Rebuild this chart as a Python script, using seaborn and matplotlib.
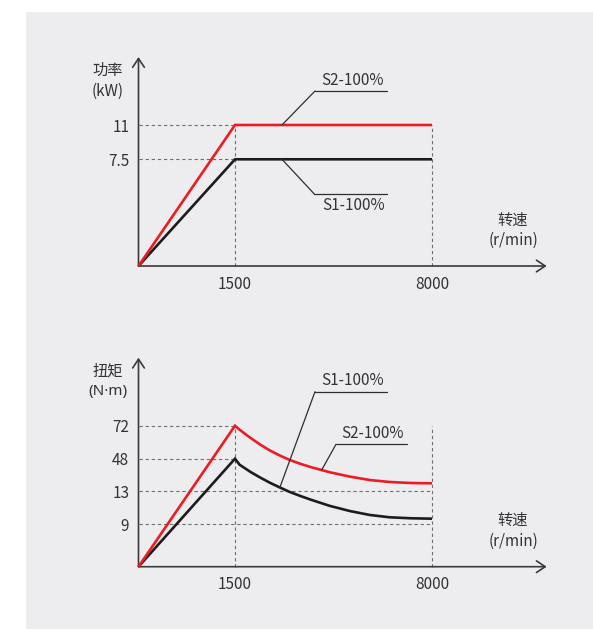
import numpy as np
import pandas as pd
import matplotlib
matplotlib.use("Agg")
import matplotlib.pyplot as plt
import seaborn as sns
from matplotlib.lines import Line2D
from matplotlib.patches import Rectangle

# speed (r/min) and the duty curves
speed_power = [0, 1500, 8000]
s1_power = [0, 7.5, 7.5]
s2_power = [0, 11, 11]

speed_torque = [0, 1500, 1650, 2000, 2330, 2650, 2980, 3300, 3650, 3980,
                4630, 5300, 5950, 6600, 7300, 8000]
s1_torque = [0, 48, 41.6, 34.0, 27.8, 22.2, 17.1, 12.93, 12.44, 12.01,
             11.23, 10.6, 10.13, 9.85, 9.73, 9.68]
s2_torque = [0, 72, 69.1, 63.3, 58.3, 54.0, 50.3, 46.7, 42.6, 39.2,
             33.4, 28.7, 25.1, 23.0, 21.9, 21.6]

speed_ticks = [1500, 8000]
power_ticks = [7.5, 11]
torque_ticks = [9, 13, 48, 72]
duty_names = ["S1-100%", "S2-100%"]

sns.set_theme(style="white")
plt.rcParams["font.family"] = ["Noto Sans CJK SC", "DejaVu Sans"]
plt.rcParams["lines.solid_joinstyle"] = "miter"

W, H = 593, 629
RED = "#ec1c24"
BLACK = "#1c1c1c"
TXT = "#333333"
GRID = "#6f6f6f"

fig = plt.figure(figsize=(W / 100, H / 100), dpi=100)
fig.patch.set_facecolor("white")
fig.add_artist(Rectangle((26 / W, 0), 1, (H - 12) / H, transform=fig.transFigure,
                         facecolor="#ededef", edgecolor="none", zorder=0))


def px(x, y):
    # figure pixels measured from the top left
    return (x / W, 1 - y / H)


# the drawing is schematic: piecewise-linear scales between the marked values
def piecewise(vals, pos):
    vals = np.asarray(vals, float)
    pos = np.asarray(pos, float)
    fwd = lambda v: np.interp(v, vals, pos)
    inv = lambda p: np.interp(p, pos, vals)
    return fwd, inv


x_fwd, x_inv = piecewise([0, 1500, 8000, 12000], [0, 96.5, 293.5, 414.7])


def make_axes(y_top, y_anchor, y_pos):
    ax = fig.add_axes([138.5 / W, (H - y_top) / H, 408.2 / W, 209 / H])
    ax.set_facecolor("none")
    ax.set_xscale("function", functions=(x_fwd, x_inv))
    y_fwd, y_inv = piecewise(y_anchor, y_pos)
    ax.set_yscale("function", functions=(y_fwd, y_inv))
    ax.set_xlim(0, x_inv(408.2))
    ax.set_ylim(0, y_anchor[-1])
    for s in ax.spines.values():
        s.set_visible(False)
    arrow = dict(arrowstyle="->,head_length=0.45,head_width=0.3", lw=1.2,
                 color="#3a3a3a", shrinkA=0, shrinkB=0, mutation_scale=14)
    ax.annotate("", xy=(1, 0), xytext=(0, 0), xycoords="axes fraction",
                textcoords="axes fraction", arrowprops=arrow)
    ax.annotate("", xy=(0, 1), xytext=(0, 0), xycoords="axes fraction",
                textcoords="axes fraction", arrowprops=arrow)
    ax.minorticks_off()
    ax.tick_params(length=0, labelsize=11, labelcolor=TXT)
    ax.tick_params(axis="x", pad=7)
    ax.tick_params(axis="y", pad=6.6)
    return ax


def draw_curves(ax, speed, s1, s2):
    df = pd.DataFrame({
        "speed": speed * 2,
        "value": s1 + s2,
        "duty": [duty_names[0]] * len(speed) + [duty_names[1]] * len(speed),
    })
    sns.lineplot(data=df, x="speed", y="value", hue="duty", estimator=None,
                 palette={duty_names[0]: BLACK, duty_names[1]: RED},
                 linewidth=1.9, legend=False, ax=ax, zorder=3)
    for ln in ax.get_lines():
        ln.set_clip_on(False)
        ln.set_solid_capstyle("butt")
    ax.set_xlabel("")
    ax.set_ylabel("")


dash = dict(colors=GRID, linewidth=0.8, linestyles=(0, (3, 2.5)), zorder=1, clip_on=False)


def leader(ax, xy, elbow, end_x):
    ax.annotate("", xy=xy, xycoords="data", xytext=(elbow[0], H - elbow[1]),
                textcoords="figure pixels",
                arrowprops=dict(arrowstyle="-", lw=0.9, color="#2e2e2e",
                                shrinkA=0, shrinkB=0))
    fig.add_artist(Line2D([elbow[0] / W, end_x / W], [1 - elbow[1] / H] * 2,
                          transform=fig.transFigure, lw=0.9, color="#2e2e2e"))


def label(x, y, s, ha="center", family=None):
    kw = dict(fontsize=11, color=TXT, va="center", ha=ha)
    if family:
        kw["family"] = family
    fig.text(*px(x, y), s, **kw)


# ---- power chart ----
ax1 = make_axes(266, [0, 7.5, 11, 20], [0, 106.7, 141, 209])
ax1.hlines(power_ticks, 0, 1500, **dash)
ax1.vlines(speed_ticks, 0, max(s2_power), **dash)
draw_curves(ax1, speed_power, s1_power, s2_power)
ax1.set_xticks(speed_ticks, [str(v) for v in speed_ticks])
ax1.set_yticks(power_ticks, ["7.5", "11"])
leader(ax1, (3050, 11), (315, 91), 387.3)
leader(ax1, (3050, 7.5), (314.3, 194), 387.3)
label(321.7, 80.8, duty_names[1], ha="left")
label(322, 205.8, duty_names[0], ha="left")
label(108, 70, "功率")
label(108, 91, "(kW)")
label(513, 220, "转速")
label(513, 240.7, "(r/min)")

# ---- torque chart ----
ax2 = make_axes(566.7, [0, 9, 13, 48, 72, 100], [0, 42.4, 75.4, 108, 141, 209])
ax2.hlines([72, 48], 0, 1500, **dash)
ax2.hlines([13, 9], 0, 8000, **dash)
ax2.vlines(speed_ticks, 0, max(s2_torque), **dash)
draw_curves(ax2, speed_torque, s1_torque, s2_torque)
ax2.set_xticks(speed_ticks, [str(v) for v in speed_ticks])
ax2.set_yticks(torque_ticks, [str(v) for v in torque_ticks])
leader(ax2, (2980, 17.1), (315, 391.7), 387.3)
leader(ax2, (4360, 35.9), (336, 444.3), 407.3)
label(321.7, 380.7, duty_names[0], ha="left")
label(341.7, 433.3, duty_names[1], ha="left")
label(108, 370.7, "扭矩")
label(108, 391.7, "(N·m)", family=["Noto Sans", "DejaVu Sans"])
label(513, 520.7, "转速")
label(513, 541.7, "(r/min)")

fig.savefig("out.png", dpi=100)
